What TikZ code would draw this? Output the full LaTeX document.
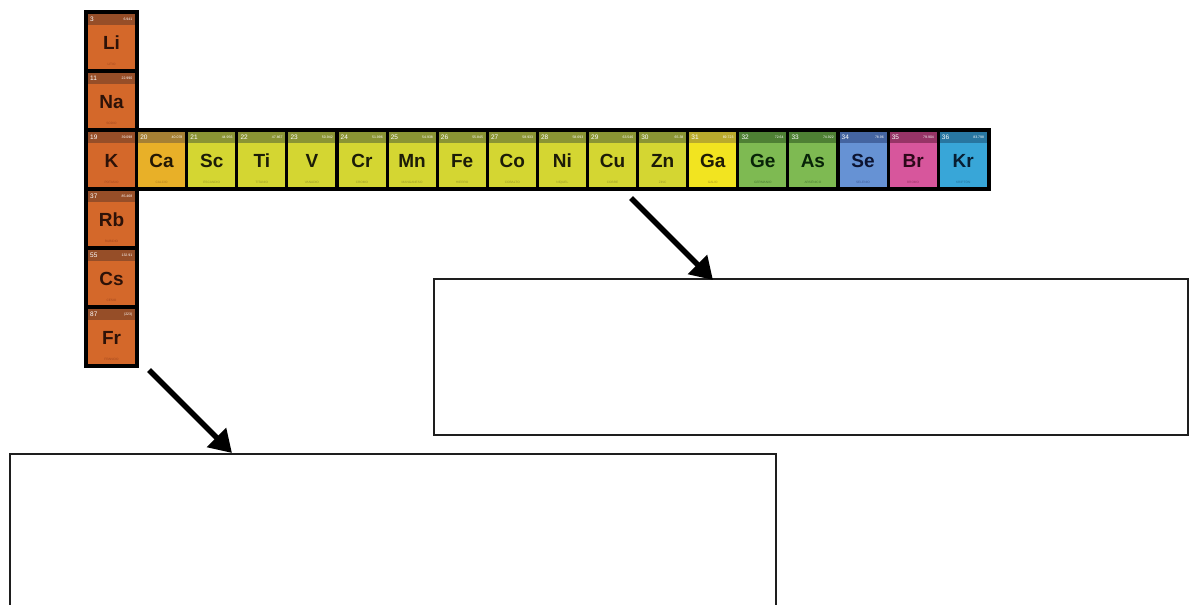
\documentclass[tikz,border=0pt]{standalone}
\usepackage{fontspec}
\setmainfont{Liberation Sans}
\usetikzlibrary{arrows.meta}
\definecolor{alkfill}{RGB}{212,104,42}
\definecolor{alkband}{RGB}{150,78,40}
\definecolor{alksym}{RGB}{45,18,8}
\definecolor{alkname}{RGB}{160,70,30}
\definecolor{caefill}{RGB}{232,176,40}
\definecolor{caeband}{RGB}{165,128,52}
\definecolor{caesym}{RGB}{35,24,5}
\definecolor{caename}{RGB}{170,120,30}
\definecolor{trnfill}{RGB}{212,214,50}
\definecolor{trnband}{RGB}{138,148,52}
\definecolor{trnsym}{RGB}{28,28,8}
\definecolor{trnname}{RGB}{150,150,40}
\definecolor{galfill}{RGB}{242,228,32}
\definecolor{galband}{RGB}{185,170,45}
\definecolor{galsym}{RGB}{32,28,5}
\definecolor{galname}{RGB}{170,150,30}
\definecolor{grnfill}{RGB}{126,186,82}
\definecolor{grnband}{RGB}{78,128,52}
\definecolor{grnsym}{RGB}{8,35,8}
\definecolor{grnname}{RGB}{70,120,50}
\definecolor{sefill}{RGB}{102,146,212}
\definecolor{seband}{RGB}{68,100,160}
\definecolor{sesym}{RGB}{12,20,50}
\definecolor{sename}{RGB}{60,90,150}
\definecolor{brfill}{RGB}{215,86,156}
\definecolor{brband}{RGB}{150,52,102}
\definecolor{brsym}{RGB}{45,8,25}
\definecolor{brname}{RGB}{150,50,100}
\definecolor{krfill}{RGB}{56,166,216}
\definecolor{krband}{RGB}{40,118,160}
\definecolor{krsym}{RGB}{8,30,50}
\definecolor{krname}{RGB}{35,110,150}
\definecolor{boxline}{RGB}{30,30,30}
\tikzset{
  cell/.style={minimum width=47pt, minimum height=55pt, inner sep=0pt, outer sep=0pt},
  numtext/.style={text=white, font=\fontsize{6.5}{6.5}\selectfont, inner sep=0pt},
  masstext/.style={text=white, font=\fontsize{3.5}{3.5}\selectfont, inner sep=0pt},
  symtext/.style={font=\fontsize{19}{19}\selectfont\bfseries, inner sep=0pt},
  nametext/.style={font=\fontsize{3.2}{3.2}\selectfont, inner sep=0pt},
  answerbox/.style={draw=boxline, line width=1.3pt, fill=none},
  arr/.style={line width=5.5pt, -{Triangle[length=22pt,width=26pt]}},
}
\newcommand{\elemcell}[8]{%
  \node[cell, fill=#4fill] (#1) at (#2+23.5,#3+27.5) {};
  \fill[#4band] (#1.north west) rectangle ([yshift=-11pt]#1.north east);
  \node[numtext, anchor=west] at ([xshift=2pt,yshift=-5.5pt]#1.north west) {#5};
  \node[masstext, anchor=east] at ([xshift=-2.5pt,yshift=-5.5pt]#1.north east) {#6};
  \node[symtext, text=#4sym] at ([yshift=-1.5pt]#1.center) {#7};
  \node[nametext, text=#4name] at ([yshift=5pt]#1.south) {#8};
}
\begin{document}
\begin{tikzpicture}[x=1pt,y=-1pt]
\useasboundingbox (0,0) rectangle (1189,605);
\clip (0,0) rectangle (1189,605);
% black frame
\fill[black] (84,10) rectangle (139,368);
\fill[black] (84,128) rectangle (991,191);
% group 1 column
\elemcell{Li}{88}{14}{alk}{3}{6.941}{Li}{LITIO}
\elemcell{Na}{88}{73}{alk}{11}{22.990}{Na}{SODIO}
\elemcell{K}{88}{132}{alk}{19}{39.098}{K}{POTASIO}
\elemcell{Rb}{88}{191}{alk}{37}{85.468}{Rb}{RUBIDIO}
\elemcell{Cs}{88}{250}{alk}{55}{132.91}{Cs}{CESIO}
\elemcell{Fr}{88}{309}{alk}{87}{(223)}{Fr}{FRANCIO}
% period 4 row
\elemcell{Ca}{138.1}{132}{cae}{20}{40.078}{Ca}{CALCIO}
\elemcell{Sc}{188.2}{132}{trn}{21}{44.956}{Sc}{ESCANDIO}
\elemcell{Ti}{238.3}{132}{trn}{22}{47.867}{Ti}{TITANIO}
\elemcell{V}{288.4}{132}{trn}{23}{50.942}{V}{VANADIO}
\elemcell{Cr}{338.5}{132}{trn}{24}{51.996}{Cr}{CROMO}
\elemcell{Mn}{388.6}{132}{trn}{25}{54.938}{Mn}{MANGANESO}
\elemcell{Fe}{438.7}{132}{trn}{26}{55.845}{Fe}{HIERRO}
\elemcell{Co}{488.8}{132}{trn}{27}{58.933}{Co}{COBALTO}
\elemcell{Ni}{538.9}{132}{trn}{28}{58.693}{Ni}{NÍQUEL}
\elemcell{Cu}{589.0}{132}{trn}{29}{63.546}{Cu}{COBRE}
\elemcell{Zn}{639.1}{132}{trn}{30}{65.38}{Zn}{ZINC}
\elemcell{Ga}{689.2}{132}{gal}{31}{69.723}{Ga}{GALIO}
\elemcell{Ge}{739.3}{132}{grn}{32}{72.64}{Ge}{GERMANIO}
\elemcell{As}{789.4}{132}{grn}{33}{74.922}{As}{ARSÉNICO}
\elemcell{Se}{839.5}{132}{se}{34}{78.96}{Se}{SELENIO}
\elemcell{Br}{889.6}{132}{br}{35}{79.904}{Br}{BROMO}
\elemcell{Kr}{939.7}{132}{kr}{36}{83.798}{Kr}{KRIPTÓN}
% answer boxes
\node[answerbox, minimum width=754pt, minimum height=156pt, inner sep=0pt] (box1) at (811,357) {};
\node[answerbox, minimum width=766pt, minimum height=170pt, inner sep=0pt] (box2) at (393,539) {};
% arrows
\coordinate (s1) at (631,198);
\coordinate (t1) at (713,280);
\coordinate (s2) at (149,370);
\coordinate (t2) at (232,453);
\draw[arr] (s1) -- (t1);
\draw[arr] (s2) -- (t2);
\end{tikzpicture}
\end{document}
